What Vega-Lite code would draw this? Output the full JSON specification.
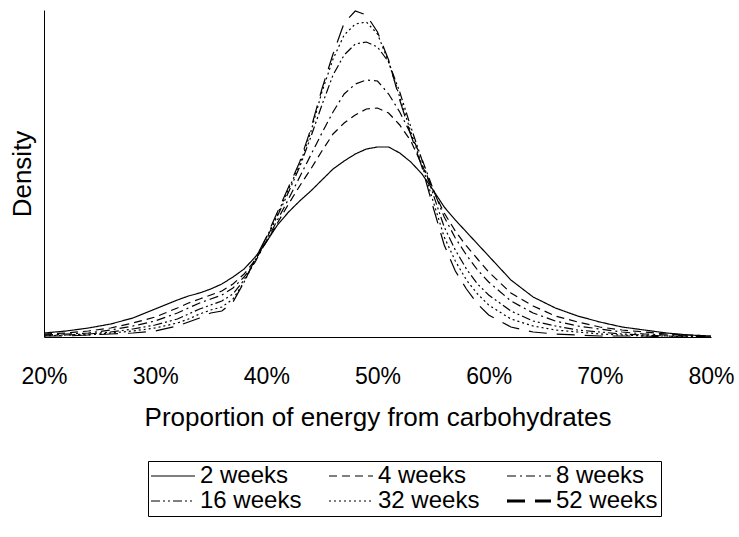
{
  "$schema": "https://vega.github.io/schema/vega-lite/v6.json",
  "autosize": {"type": "none"},
  "padding": {"left": 44, "top": 10, "right": 28, "bottom": 200},
  "width": 667,
  "height": 327,
  "config": {
    "font": "Liberation Sans",
    "view": {"stroke": null},
    "axis": {"domainColor": "black", "domainWidth": 1, "grid": false, "ticks": false, "labelColor": "black", "titleColor": "black", "titleFontWeight": "normal", "labelFontSize": 23, "titleFontSize": 26, "labelFont": "Liberation Sans", "titleFont": "Liberation Sans"}
  },
  "data": {
    "values": [
      {"p": 20, "2 weeks": 4, "4 weeks": 3, "8 weeks": 2, "16 weeks": 2, "32 weeks": 1, "52 weeks": 1},
      {"p": 22, "2 weeks": 6, "4 weeks": 4, "8 weeks": 3, "16 weeks": 2, "32 weeks": 2, "52 weeks": 1},
      {"p": 24, "2 weeks": 9, "4 weeks": 6, "8 weeks": 4, "16 weeks": 3, "32 weeks": 2, "52 weeks": 2},
      {"p": 26, "2 weeks": 13, "4 weeks": 9, "8 weeks": 7, "16 weeks": 5, "32 weeks": 4, "52 weeks": 3},
      {"p": 28, "2 weeks": 19, "4 weeks": 14, "8 weeks": 11, "16 weeks": 8, "32 weeks": 6, "52 weeks": 4},
      {"p": 30, "2 weeks": 28, "4 weeks": 20, "8 weeks": 16, "16 weeks": 12, "32 weeks": 9, "52 weeks": 6},
      {"p": 32, "2 weeks": 37, "4 weeks": 29, "8 weeks": 24, "16 weeks": 18, "32 weeks": 14, "52 weeks": 11},
      {"p": 33, "2 weeks": 41, "4 weeks": 34, "8 weeks": 29, "16 weeks": 23, "32 weeks": 18, "52 weeks": 15},
      {"p": 34, "2 weeks": 44, "4 weeks": 38, "8 weeks": 34, "16 weeks": 28, "32 weeks": 23, "52 weeks": 19},
      {"p": 35, "2 weeks": 48, "4 weeks": 42, "8 weeks": 38, "16 weeks": 32, "32 weeks": 27, "52 weeks": 24},
      {"p": 36, "2 weeks": 53, "4 weeks": 46, "8 weeks": 42, "16 weeks": 36, "32 weeks": 30, "52 weeks": 26},
      {"p": 37, "2 weeks": 60, "4 weeks": 53, "8 weeks": 49, "16 weeks": 43, "32 weeks": 38, "52 weeks": 35},
      {"p": 38, "2 weeks": 68, "4 weeks": 63, "8 weeks": 60, "16 weeks": 57, "32 weeks": 55, "52 weeks": 55},
      {"p": 39, "2 weeks": 80, "4 weeks": 77, "8 weeks": 75, "16 weeks": 76, "32 weeks": 77, "52 weeks": 78},
      {"p": 40, "2 weeks": 95, "4 weeks": 95, "8 weeks": 96, "16 weeks": 98, "32 weeks": 99, "52 weeks": 100},
      {"p": 41, "2 weeks": 112, "4 weeks": 114, "8 weeks": 117, "16 weeks": 121, "32 weeks": 123, "52 weeks": 125},
      {"p": 42, "2 weeks": 125, "4 weeks": 133, "8 weeks": 138, "16 weeks": 145, "32 weeks": 148, "52 weeks": 150},
      {"p": 43, "2 weeks": 136, "4 weeks": 151, "8 weeks": 160, "16 weeks": 170, "32 weeks": 172, "52 weeks": 175},
      {"p": 44, "2 weeks": 146, "4 weeks": 168, "8 weeks": 182, "16 weeks": 200, "32 weeks": 205, "52 weeks": 208},
      {"p": 45, "2 weeks": 157, "4 weeks": 186, "8 weeks": 204, "16 weeks": 232, "32 weeks": 245, "52 weeks": 248},
      {"p": 46, "2 weeks": 168, "4 weeks": 203, "8 weeks": 225, "16 weeks": 262, "32 weeks": 278, "52 weeks": 283},
      {"p": 47, "2 weeks": 176, "4 weeks": 214, "8 weeks": 243, "16 weeks": 282, "32 weeks": 302, "52 weeks": 314},
      {"p": 48, "2 weeks": 183, "4 weeks": 222, "8 weeks": 253, "16 weeks": 293, "32 weeks": 313, "52 weeks": 326},
      {"p": 49, "2 weeks": 188, "4 weeks": 228, "8 weeks": 257, "16 weeks": 295, "32 weeks": 315, "52 weeks": 322},
      {"p": 50, "2 weeks": 190, "4 weeks": 229, "8 weeks": 256, "16 weeks": 290, "32 weeks": 303, "52 weeks": 305},
      {"p": 51, "2 weeks": 190, "4 weeks": 224, "8 weeks": 243, "16 weeks": 275, "32 weeks": 275, "52 weeks": 277},
      {"p": 52, "2 weeks": 184, "4 weeks": 212, "8 weeks": 225, "16 weeks": 245, "32 weeks": 240, "52 weeks": 237},
      {"p": 53, "2 weeks": 175, "4 weeks": 196, "8 weeks": 203, "16 weeks": 210, "32 weeks": 205, "52 weeks": 202},
      {"p": 54, "2 weeks": 163, "4 weeks": 172, "8 weeks": 178, "16 weeks": 177, "32 weeks": 172, "52 weeks": 170},
      {"p": 55, "2 weeks": 147, "4 weeks": 147, "8 weeks": 148, "16 weeks": 143, "32 weeks": 136, "52 weeks": 130},
      {"p": 56, "2 weeks": 130, "4 weeks": 124, "8 weeks": 120, "16 weeks": 110, "32 weeks": 100, "52 weeks": 92},
      {"p": 57, "2 weeks": 117, "4 weeks": 106, "8 weeks": 99, "16 weeks": 87, "32 weeks": 76, "52 weeks": 66},
      {"p": 58, "2 weeks": 105, "4 weeks": 91, "8 weeks": 82, "16 weeks": 68, "32 weeks": 57, "52 weeks": 48},
      {"p": 59, "2 weeks": 93, "4 weeks": 78, "8 weeks": 67, "16 weeks": 53, "32 weeks": 43, "52 weeks": 33},
      {"p": 60, "2 weeks": 81, "4 weeks": 65, "8 weeks": 55, "16 weeks": 42, "32 weeks": 32, "52 weeks": 22},
      {"p": 62, "2 weeks": 57, "4 weeks": 44, "8 weeks": 36, "16 weeks": 26, "32 weeks": 18, "52 weeks": 10},
      {"p": 64, "2 weeks": 40, "4 weeks": 31, "8 weeks": 24, "16 weeks": 16, "32 weeks": 11, "52 weeks": 5},
      {"p": 66, "2 weeks": 29, "4 weeks": 21, "8 weeks": 16, "16 weeks": 11, "32 weeks": 7, "52 weeks": 3},
      {"p": 68, "2 weeks": 21, "4 weeks": 15, "8 weeks": 11, "16 weeks": 7, "32 weeks": 5, "52 weeks": 2},
      {"p": 70, "2 weeks": 15, "4 weeks": 10, "8 weeks": 8, "16 weeks": 5, "32 weeks": 3, "52 weeks": 1},
      {"p": 72, "2 weeks": 10, "4 weeks": 7, "8 weeks": 5, "16 weeks": 3, "32 weeks": 2, "52 weeks": 1},
      {"p": 74, "2 weeks": 7, "4 weeks": 5, "8 weeks": 3, "16 weeks": 2, "32 weeks": 1, "52 weeks": 1},
      {"p": 76, "2 weeks": 4, "4 weeks": 3, "8 weeks": 2, "16 weeks": 1, "32 weeks": 1, "52 weeks": 0},
      {"p": 78, "2 weeks": 2, "4 weeks": 2, "8 weeks": 1, "16 weeks": 1, "32 weeks": 0, "52 weeks": 0},
      {"p": 80, "2 weeks": 1, "4 weeks": 1, "8 weeks": 0, "16 weeks": 0, "32 weeks": 0, "52 weeks": 0}
    ]
  },
  "transform": [
    {"fold": ["2 weeks", "4 weeks", "8 weeks", "16 weeks", "32 weeks", "52 weeks"], "as": ["series", "density"]}
  ],
  "mark": {"type": "line", "color": "black", "strokeWidth": 1.2, "interpolate": "linear"},
  "encoding": {
    "x": {
      "field": "p", "type": "quantitative",
      "scale": {"domain": [20, 80], "nice": false, "zero": false},
      "axis": {"values": [20, 30, 40, 50, 60, 70, 80], "labelExpr": "datum.value + '%'", "labelFlush": false, "labelOverlap": false, "labelPadding": 28, "title": "Proportion of energy from carbohydrates", "titlePadding": 16}
    },
    "y": {
      "field": "density", "type": "quantitative",
      "scale": {"domain": [0, 327], "nice": false},
      "axis": {"labels": false, "title": "Density", "titlePadding": 9}
    },
    "strokeDash": {
      "field": "series", "type": "nominal",
      "scale": {
        "domain": ["2 weeks", "4 weeks", "8 weeks", "16 weeks", "32 weeks", "52 weeks"],
        "range": [[1, 0], [8, 5], [9, 4, 2, 4], [9, 3, 2, 3, 2, 3], [2, 3], [18, 10]]
      },
      "legend": {
        "title": null,
        "orient": "none",
        "legendX": 104,
        "legendY": 451,
        "columns": 3,
        "direction": "horizontal",
        "gridAlign": "all",
        "symbolType": "stroke",
        "symbolSize": 1936,
        "symbolOffset": 10,
        "symbolStrokeColor": "black",
        "symbolStrokeWidth": 1.2,
        "labelFontSize": 24,
        "labelFont": "Liberation Sans",
        "labelColor": "black",
        "labelOffset": 15,
        "labelLimit": 300,
        "columnPadding": 20,
        "rowPadding": 1,
        "padding": 3,
        "strokeColor": "black",
        "encode": {"symbols": {"update": {"strokeWidth": {"signal": "datum.value === '52 weeks' ? 3.2 : 1.2"}}}}
      }
    },
    "strokeWidth": {
      "condition": {"test": "datum.series === '52 weeks'", "value": 3.2},
      "value": 1.2
    }
  }
}
